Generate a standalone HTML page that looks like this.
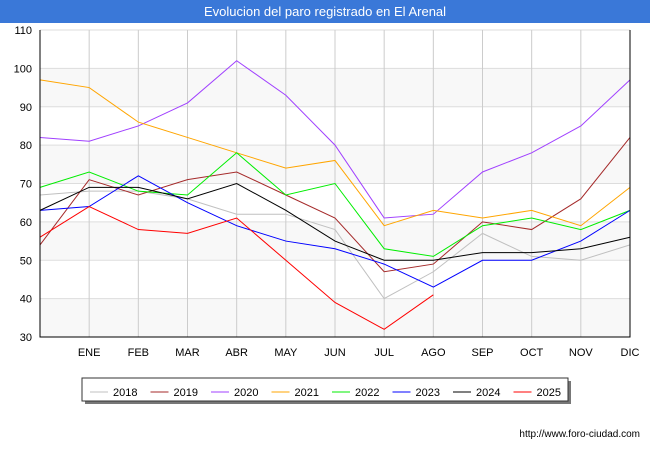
<!DOCTYPE html>
<html><head><meta charset="utf-8"><style>
body{margin:0;background:#fff;font-family:"Liberation Sans",sans-serif;}
</style></head><body>
<svg width="650" height="450" xmlns="http://www.w3.org/2000/svg" font-family="Liberation Sans, sans-serif">
<rect x="0" y="0" width="650" height="23" fill="#3a78d8"/>
<text x="325" y="16" text-anchor="middle" fill="#fff" font-size="13">Evolucion del paro registrado en El Arenal</text>
<g id="bands"></g><g id="grid"></g><g id="series"></g><g id="axes"></g>
<g>
<rect x="85" y="381" width="486" height="23" fill="#777"/>
<rect x="82" y="378" width="486" height="23" fill="#fff" stroke="#333"/>
<g id="legend"></g>
</g>
<text x="640" y="437" text-anchor="end" font-size="10" fill="#000">http://www.foro-ciudad.com</text>
</svg>
<script>
const months=["","ENE","FEB","MAR","ABR","MAY","JUN","JUL","AGO","SEP","OCT","NOV","DIC"];
const yTicks=[30,40,50,60,70,80,90,100,110];
const years=["2018","2019","2020","2021","2022","2023","2024","2025"];
const colors=["#c0c0c0","#a52a2a","#a040ff","#ffa500","#00ee00","#0000ff","#000000","#ff0000"];
const s2018=[67,68,68,66,62,62,58,40,47,57,51,50,54];
const s2019=[54,71,67,71,73,67,61,47,49,60,58,66,82];
const s2020=[82,81,85,91,102,93,80,61,62,73,78,85,97];
const s2021=[97,95,86,82,78,74,76,59,63,61,63,59,69];
const s2022=[69,73,68,67,78,67,70,53,51,59,61,58,63];
const s2023=[63,64,72,65,59,55,53,49,43,50,50,55,63];
const s2024=[63,69,69,66,70,63,55,50,50,52,52,53,56];
const s2025=[56,64,58,57,61,50,39,32,41];
const series=[s2018,s2019,s2020,s2021,s2022,s2023,s2024,s2025];
const NS="http://www.w3.org/2000/svg";
const L=40,R=630,T=30,B=337;
const x=i=>L+i*(R-L)/12;
const y=v=>B-(v-30)*(B-T)/80;
function mk(t,a,p){const e=document.createElementNS(NS,t);for(const k in a)e.setAttribute(k,a[k]);p.appendChild(e);return e;}
const bands=document.getElementById('bands'),grid=document.getElementById('grid'),sg=document.getElementById('series'),ax=document.getElementById('axes'),lg=document.getElementById('legend');
for(let i=0;i<yTicks.length-1;i+=2){const r=mk('rect',{x:L,y:y(yTicks[i+1]),width:R-L,height:y(yTicks[i])-y(yTicks[i+1]),fill:'#f8f8f8'},bands);

}
yTicks.forEach(v=>{const l=mk('line',{x1:L,x2:R,y1:y(v),y2:y(v),stroke:'#ddd'},grid);


const t=mk('text',{x:L-8,y:y(v)+4,'text-anchor':'end','font-size':'11'},ax);t.textContent=v;

});
months.forEach((m,i)=>{if(i>0){const l=mk('line',{x1:x(i),x2:x(i),y1:T,y2:B,stroke:'#ccc'},grid);

}
const t=mk('text',{x:x(i),y:B+19,'text-anchor':'middle','font-size':'11'},ax);t.textContent=m;

});
const a=mk('path',{d:`M${L},${T}V${B}H${R}V${T}`,fill:'none',stroke:'#000'},ax);


series.forEach((s,k)=>{const p=mk('polyline',{points:s.map((v,i)=>x(i)+','+y(v)).join(' '),fill:'none',stroke:colors[k],'stroke-width':1},sg);


const lx=90+k*60.5;
const ll=mk('line',{x1:lx,x2:lx+18,y1:392,y2:392,stroke:colors[k]},lg);


const lt=mk('text',{x:lx+23,y:396,'font-size':'11'},lg);lt.textContent=years[k];

});
</script>
</body></html>
